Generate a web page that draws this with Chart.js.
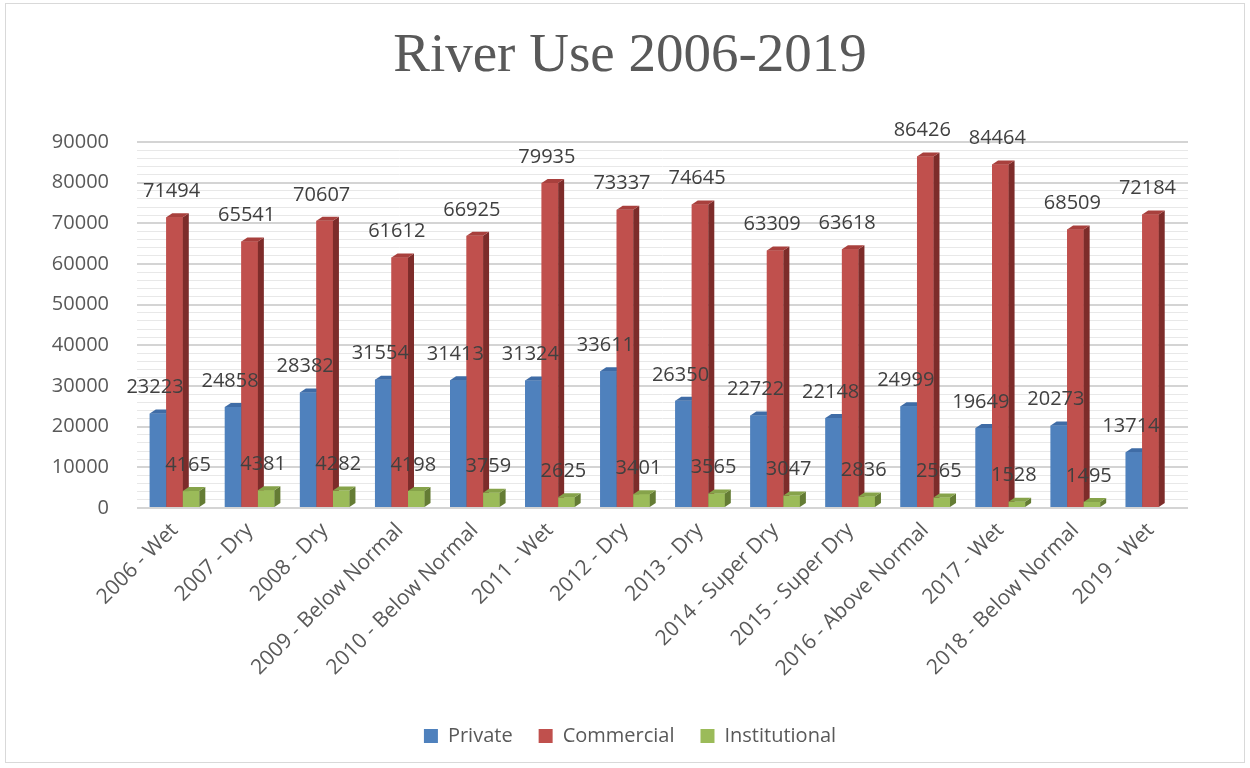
<!DOCTYPE html>
<html lang="en">
<head>
<meta charset="UTF-8">
<title>River Use 2006-2019</title>
<script src="https://cdn.jsdelivr.net/npm/chart.js@4.4.1/dist/chart.umd.min.js"></script>
<style>
  body { margin: 0; background: #fff; }
  #wrap { position: relative; width: 1250px; height: 768px; }
  #frame { position: absolute; left: 5px; top: 3px; width: 1240px; height: 760px; border: 1px solid #d9d9d9; box-sizing: border-box; pointer-events: none; }
</style>
</head>
<body>
<div id="wrap">
  <canvas id="myChart" width="1250" height="768"></canvas>
  <div id="frame"></div>
</div>
<script>
const years = ['2006 - Wet', '2007 - Dry', '2008 - Dry', '2009 - Below Normal', '2010 - Below Normal',
  '2011 - Wet', '2012 - Dry', '2013 - Dry', '2014 - Super Dry', '2015 - Super Dry',
  '2016 - Above Normal', '2017 - Wet', '2018 - Below Normal', '2019 - Wet'];
const privateUse = [23223, 24858, 28382, 31554, 31413, 31324, 33611, 26350, 22722, 22148, 24999, 19649, 20273, 13714];
const commercialUse = [71494, 65541, 70607, 61612, 66925, 79935, 73337, 74645, 63309, 63618, 86426, 84464, 68509, 72184];
const institutionalUse = [4165, 4381, 4282, 4198, 3759, 2625, 3401, 3565, 3047, 2836, 2565, 1528, 1495, null];

const textColor = '#595959';
const sans = "'Open Sans', 'Noto Sans', sans-serif";

// front / top / side colours for the fake 3d look
const shade = {
  Private: { front: '#4f81bd', top: '#3f6ca6', side: '#2f5283' },
  Commercial: { front: '#c0504d', top: '#a8403d', side: '#7d2c2a' },
  Institutional: { front: '#9bbb59', top: '#86a34a', side: '#647c34' }
};

// repaint the bars left to right with a side and a top face
const depthPlugin = {
  id: 'depth',
  afterDatasetsDraw(chart) {
    const ctx = chart.ctx;
    const dx = 6, dy = 4;
    ctx.save();
    chart.data.datasets.forEach((ds, di) => {
      const s = shade[ds.label];
      chart.getDatasetMeta(di).data.forEach((bar, i) => {
        if (ds.data[i] === null) return;
        const p = bar.getProps(['x', 'y', 'base', 'width'], true);
        const l = p.x - p.width / 2, r = p.x + p.width / 2;
        ctx.fillStyle = s.front;
        ctx.fillRect(l, p.y, p.width, p.base - p.y);
        ctx.fillStyle = s.side;
        ctx.beginPath();
        ctx.moveTo(r, p.y);
        ctx.lineTo(r + dx, p.y - dy);
        ctx.lineTo(r + dx, p.base - dy);
        ctx.lineTo(r, p.base);
        ctx.closePath();
        ctx.fill();
        ctx.fillStyle = s.top;
        ctx.beginPath();
        ctx.moveTo(l, p.y);
        ctx.lineTo(l + dx, p.y - dy);
        ctx.lineTo(r + dx, p.y - dy);
        ctx.lineTo(r, p.y);
        ctx.closePath();
        ctx.fill();
      });
    });
    ctx.restore();
  }
};

const valueLabels = {
  id: 'valueLabels',
  afterDatasetsDraw(chart) {
    const ctx = chart.ctx;
    ctx.save();
    ctx.font = '20px ' + sans;
    ctx.fillStyle = '#404040';
    ctx.textAlign = 'center';
    ctx.textBaseline = 'bottom';
    chart.data.datasets.forEach((ds, di) => {
      chart.getDatasetMeta(di).data.forEach((bar, i) => {
        if (ds.data[i] === null) return;
        ctx.fillText(ds.data[i], bar.x - 3, bar.y - 16);
      });
    });
    ctx.restore();
  }
};

const ctx = document.getElementById('myChart').getContext('2d');
new Chart(ctx, {
  type: 'bar',
  data: {
    labels: years,
    datasets: [
      { label: 'Private', data: privateUse, backgroundColor: '#4f81bd' },
      { label: 'Commercial', data: commercialUse, backgroundColor: '#c0504d' },
      { label: 'Institutional', data: institutionalUse, backgroundColor: '#9bbb59' }
    ]
  },
  plugins: [depthPlugin, valueLabels],
  options: {
    responsive: false,
    animation: false,
    datasets: { bar: { categoryPercentage: 0.66, barPercentage: 1 } },
    layout: { padding: { left: 10, right: 0, top: 24, bottom: 12 } },
    plugins: {
      title: {
        display: true,
        text: 'River Use 2006-2019',
        color: textColor,
        font: { family: "'Liberation Serif', serif", size: 55, weight: 'normal' },
        padding: { top: 0, bottom: 52 }
      },
      legend: {
        position: 'bottom',
        labels: {
          color: textColor,
          font: { family: sans, size: 20 },
          boxWidth: 14,
          boxHeight: 14,
          padding: 26
        }
      },
      tooltip: { enabled: false }
    },
    scales: {
      x: {
        afterFit(scale) { scale.height = 192; },
        grid: { display: false },
        border: { display: false },
        ticks: {
          color: textColor,
          font: { family: sans, size: 21 },
          minRotation: 45,
          maxRotation: 45,
          padding: 2
        }
      },
      y: {
        min: 0,
        max: 90000,
        afterFit(scale) { scale.width = 127; },
        border: { display: false },
        grid: {
          drawTicks: false,
          color: c => (c.tick && c.tick.value % 10000 === 0) ? '#d4d4d4' : '#e8e8e8',
          lineWidth: c => (c.tick && c.tick.value % 10000 === 0) ? 2 : 1
        },
        ticks: {
          stepSize: 2000,
          maxTicksLimit: 100,
          autoSkip: false,
          padding: 28,
          color: textColor,
          font: { family: sans, size: 20 },
          callback: v => v % 10000 === 0 ? v : ''
        }
      },
      yRight: {
        position: 'right',
        afterFit(scale) { scale.width = 62; },
        grid: { display: false },
        border: { display: false },
        ticks: { display: false }
      }
    }
  }
});
</script>
</body>
</html>
